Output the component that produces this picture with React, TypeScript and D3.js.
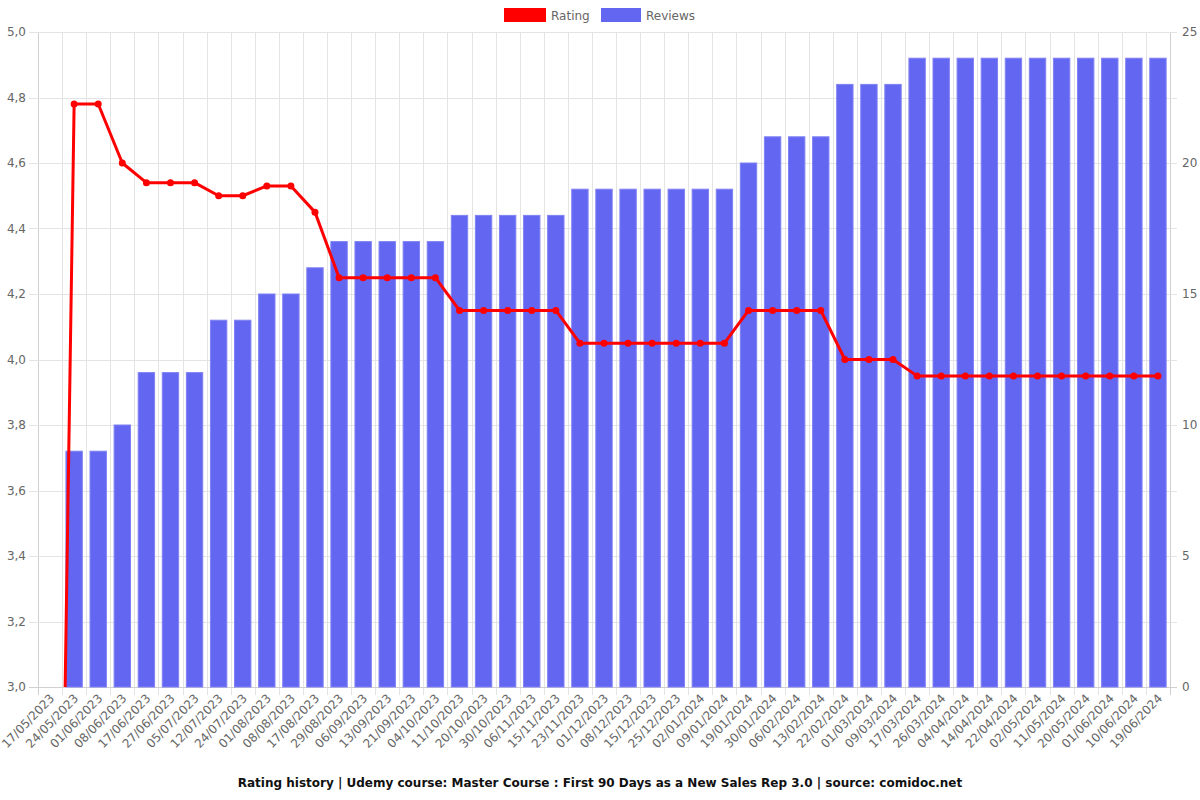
import { useEffect, useRef } from 'react';
import * as d3 from 'd3';

const dates = [
  '17/05/2023', '24/05/2023', '01/06/2023', '08/06/2023', '17/06/2023', '27/06/2023',
  '05/07/2023', '12/07/2023', '24/07/2023', '01/08/2023', '08/08/2023', '17/08/2023',
  '29/08/2023', '06/09/2023', '13/09/2023', '21/09/2023', '04/10/2023', '11/10/2023',
  '20/10/2023', '30/10/2023', '06/11/2023', '15/11/2023', '23/11/2023', '01/12/2023',
  '08/12/2023', '15/12/2023', '25/12/2023', '02/01/2024', '09/01/2024', '19/01/2024',
  '30/01/2024', '06/02/2024', '13/02/2024', '22/02/2024', '01/03/2024', '09/03/2024',
  '17/03/2024', '26/03/2024', '04/04/2024', '14/04/2024', '22/04/2024', '02/05/2024',
  '11/05/2024', '20/05/2024', '01/06/2024', '10/06/2024', '19/06/2024',
];

const ratings = [
  0, 4.78, 4.78, 4.6, 4.54, 4.54, 4.54, 4.5, 4.5, 4.53, 4.53, 4.45,
  4.25, 4.25, 4.25, 4.25, 4.25, 4.15, 4.15, 4.15, 4.15, 4.15,
  4.05, 4.05, 4.05, 4.05, 4.05, 4.05, 4.05, 4.15, 4.15, 4.15, 4.15,
  4.0, 4.0, 4.0, 3.95, 3.95, 3.95, 3.95, 3.95, 3.95, 3.95, 3.95, 3.95, 3.95, 3.95,
];

const reviews = [
  0, 9, 9, 10, 12, 12, 12, 14, 14, 15, 15, 16,
  17, 17, 17, 17, 17, 18, 18, 18, 18, 18,
  19, 19, 19, 19, 19, 19, 19, 20, 21, 21, 21,
  23, 23, 23, 24, 24, 24, 24, 24, 24, 24, 24, 24, 24, 24,
];

const ratingTicks = [3.0, 3.2, 3.4, 3.6, 3.8, 4.0, 4.2, 4.4, 4.6, 4.8, 5.0];
const reviewTicks = [0, 5, 10, 15, 20, 25];

const title = 'Rating history | Udemy course: Master Course : First 90 Days as a New Sales Rep 3.0 | source: comidoc.net';

const W = 1200;
const H = 800;
const FONT = '"DejaVu Sans", Verdana, sans-serif';

export default function App() {
  const svgRef = useRef<SVGSVGElement>(null);

  useEffect(() => {
    if (!svgRef.current) return;
    const svg = d3.select(svgRef.current);
    svg.selectAll('*').remove();

    const left = 38;
    const right = 1170;
    const top = 32;
    const bottom = 687;

    const x = d3.scaleBand<string>().domain(dates).range([left, right]).paddingInner(0).paddingOuter(0);
    const yR = d3.scaleLinear().domain([3, 5]).range([bottom, top]);
    const yV = d3.scaleLinear().domain([0, 25]).range([bottom, top]);

    svg.append('rect').attr('width', W).attr('height', H).attr('fill', '#fff');

    // grid
    const grid = svg.append('g');
    dates.forEach((d, i) => {
      const gx = Math.round(x(d)!) + 0.5;
      grid.append('line').attr('x1', gx).attr('x2', gx).attr('y1', top).attr('y2', bottom + 8)
        .attr('stroke', i === 0 ? '#d0d0d0' : '#e4e4e4').attr('stroke-width', 1);
    });
    grid.append('line').attr('x1', right + 0.5).attr('x2', right + 0.5).attr('y1', top).attr('y2', bottom + 8)
      .attr('stroke', '#d0d0d0');
    ratingTicks.forEach((t) => {
      const gy = Math.round(yR(t)) + 0.5;
      grid.append('line').attr('x1', left - 9).attr('x2', right + 7).attr('y1', gy).attr('y2', gy)
        .attr('stroke', t === 3 ? '#d0d0d0' : '#e4e4e4');
    });

    // left axis labels
    ratingTicks.forEach((t) => {
      svg.append('text')
        .attr('x', left - 12).attr('y', yR(t) + 4)
        .attr('text-anchor', 'end')
        .attr('font-size', 12).attr('font-family', FONT).attr('fill', '#666')
        .text(t.toFixed(1).replace('.', ','));
    });
    // right axis labels
    reviewTicks.forEach((t) => {
      svg.append('text')
        .attr('x', right + 12).attr('y', yV(t) + 4)
        .attr('text-anchor', 'start')
        .attr('font-size', 12).attr('font-family', FONT).attr('fill', '#666')
        .text(String(t));
    });

    // x labels
    dates.forEach((d) => {
      const cx = x(d)! + x.bandwidth() / 2;
      svg.append('text')
        .attr('transform', `translate(${cx + 5},${bottom + 12}) rotate(-46)`)
        .attr('text-anchor', 'end')
        .attr('font-size', 12).attr('font-family', FONT).attr('fill', '#666')
        .text(d);
    });

    // bars
    const bw = x.bandwidth() * 0.68;
    svg.append('g').selectAll('rect').data(reviews).join('rect')
      .attr('x', (_, i) => x(dates[i])! + (x.bandwidth() - bw) / 2)
      .attr('y', (v) => yV(v))
      .attr('width', bw)
      .attr('height', (v) => bottom - yV(v))
      .attr('fill', '#6366f1')
      .attr('stroke', '#8082f4')
      .attr('stroke-width', 1);

    // rating line, clipped to plot area
    svg.append('clipPath').attr('id', 'plot-clip')
      .append('rect').attr('x', left).attr('y', top - 5).attr('width', right - left).attr('height', bottom - top + 5);

    const line = d3.line<number>()
      .x((_, i) => x(dates[i])! + x.bandwidth() / 2)
      .y((v) => yR(v));

    const lg = svg.append('g').attr('clip-path', 'url(#plot-clip)');
    lg.append('path').datum(ratings).attr('d', line)
      .attr('fill', 'none').attr('stroke', '#ff0000').attr('stroke-width', 3).attr('stroke-linejoin', 'round');
    lg.selectAll('circle').data(ratings).join('circle')
      .attr('cx', (_, i) => x(dates[i])! + x.bandwidth() / 2)
      .attr('cy', (v) => yR(v))
      .attr('r', 3.5)
      .attr('fill', '#ff0000');

    // legend
    const leg = svg.append('g');
    leg.append('rect').attr('x', 504).attr('y', 8).attr('width', 42).attr('height', 14).attr('fill', '#ff0000');
    leg.append('text').attr('x', 551).attr('y', 20).attr('font-size', 12).attr('font-family', FONT).attr('fill', '#666').text('Rating');
    leg.append('rect').attr('x', 601).attr('y', 8).attr('width', 40).attr('height', 14).attr('fill', '#6366f1');
    leg.append('text').attr('x', 646).attr('y', 20).attr('font-size', 12).attr('font-family', FONT).attr('fill', '#666').text('Reviews');

    // title
    svg.append('text')
      .attr('x', W / 2).attr('y', 787)
      .attr('text-anchor', 'middle')
      .attr('font-size', 12).attr('font-weight', 'bold').attr('font-family', FONT).attr('fill', '#111')
      .text(title);
  }, []);

  return (
    <div style={{ position: 'absolute', left: 0, top: 0 }}>
      <svg ref={svgRef} width={W} height={H} />
    </div>
  );
}
